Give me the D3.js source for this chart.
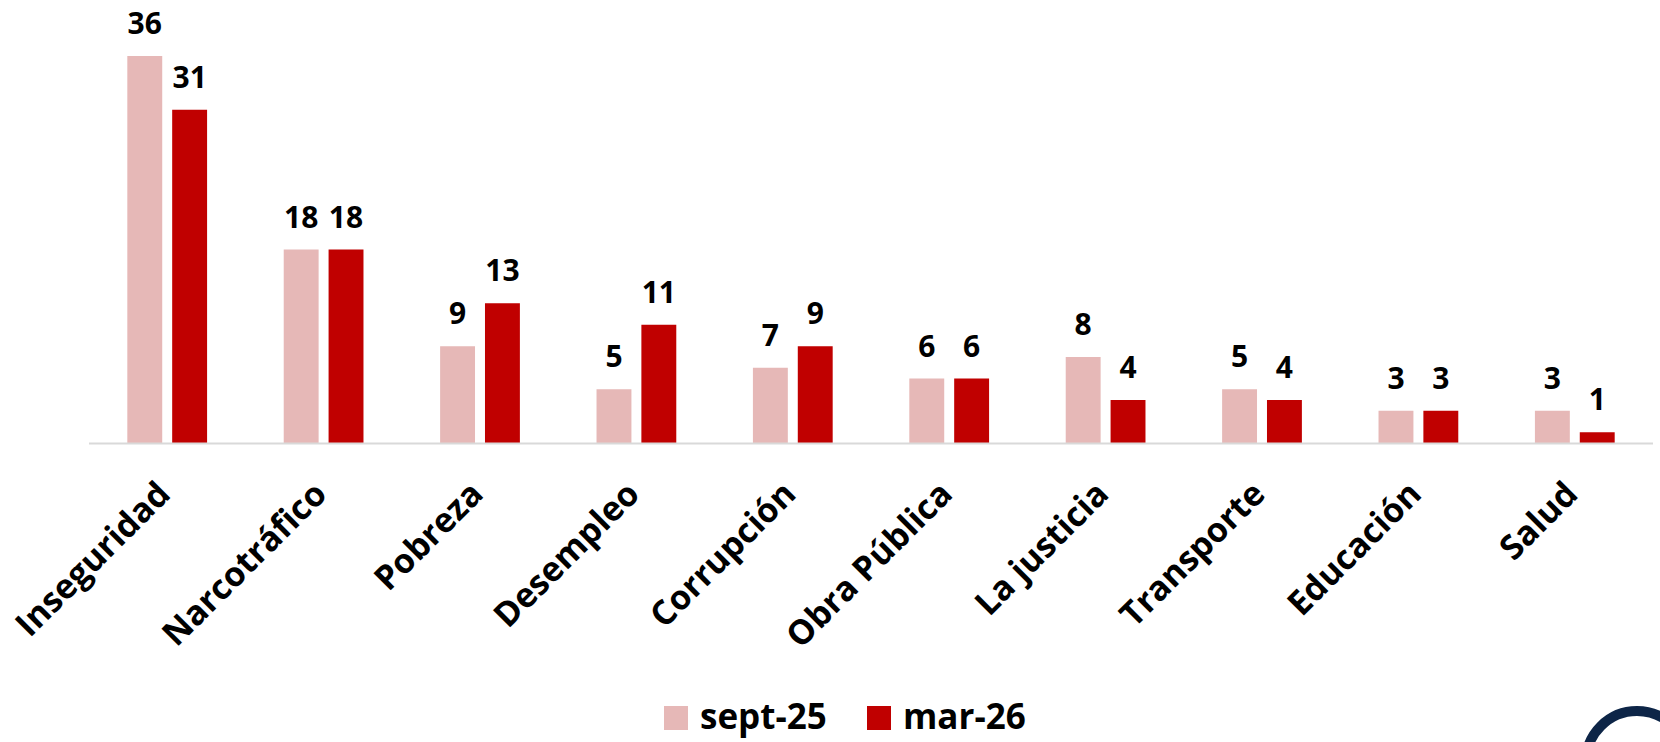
<!DOCTYPE html>
<html>
<head>
<meta charset="utf-8">
<script src="https://cdn.jsdelivr.net/npm/d3@7"></script>
<style>
  body { margin: 0; background: #fff; }
  text { font-family: "Open Sans", sans-serif; font-weight: 700; fill: #000; }
</style>
</head>
<body>
<div id="chart"></div>
<script>
// data
var categories = ["Inseguridad", "Narcotráfico", "Pobreza", "Desempleo", "Corrupción",
                  "Obra Pública", "La justicia", "Transporte", "Educación", "Salud"]
var seriesNames = ["sept-25", "mar-26"]
var sept25 = [36, 18, 9, 5, 7, 6, 8, 5, 3, 3]
var mar26 = [31, 18, 13, 11, 9, 6, 4, 4, 3, 1]
var colors = ["#e6b8b7", "#c00000"]

var W = 1660, H = 742
var svg = d3.select('#chart')
  .append('svg')
  .attr("width", W)
  .attr("height", H)

var rows = categories.map(function (c, i) {
  return { cat: c, vals: [sept25[i], mar26[i]] }
})

var x0 = d3.scaleBand()
  .domain(categories)
  .range([89, 1653])
  .paddingInner(0.49)
  .paddingOuter(0.245)

var x1 = d3.scaleBand()
  .domain(seriesNames)
  .range([0, x0.bandwidth()])
  .paddingInner(0.222)

var y = d3.scaleLinear()
  .domain([0, 40])
  .range([443, 13])

// bars
var groups = svg.selectAll("g.grp")
  .data(rows)
  .enter()
  .append("g")
  .attr("class", "grp")
  .attr("transform", function (d) { return "translate(" + x0(d.cat) + ",0)" })

groups.selectAll("rect")
  .data(function (d) { return d.vals.map(function (v, j) { return { s: seriesNames[j], v: v, j: j } }) })
  .enter()
  .append("rect")
  .attr("x", function (d) { return x1(d.s) })
  .attr("y", function (d) { return y(d.v) })
  .attr("width", x1.bandwidth())
  .attr("height", function (d) { return y(0) - y(d.v) })
  .attr("fill", function (d) { return colors[d.j] })

groups.selectAll("text.val")
  .data(function (d) { return d.vals.map(function (v, j) { return { s: seriesNames[j], v: v } }) })
  .enter()
  .append("text")
  .attr("class", "val")
  .attr("x", function (d) { return x1(d.s) + x1.bandwidth() / 2 })
  .attr("y", function (d) { return y(d.v) - 22 })
  .attr("text-anchor", "middle")
  .style("font-size", "30px")
  .text(function (d) { return d.v })

// baseline
svg.append("line")
  .attr("x1", 89).attr("x2", 1653)
  .attr("y1", y(0) + 0.5).attr("y2", y(0) + 0.5)
  .attr("stroke", "#d9d9d9")
  .attr("stroke-width", 2)

// category labels, rotated
svg.selectAll("text.cat")
  .data(categories)
  .enter()
  .append("text")
  .attr("class", "cat")
  .attr("transform", function (d) {
    return "translate(" + (x0(d) + x0.bandwidth() / 2 + 5) + ",496) rotate(-45)"
  })
  .attr("text-anchor", "end")
  .style("font-size", "34px")
  .text(function (d) { return d })

// legend
var legend = svg.append("g").attr("transform", "translate(664,706)")
var items = legend.selectAll("g")
  .data(seriesNames)
  .enter()
  .append("g")
  .attr("transform", function (d, i) { return "translate(" + (i * 203) + ",0)" })
items.append("rect")
  .attr("width", 24).attr("height", 24)
  .attr("fill", function (d, i) { return colors[i] })
items.append("text")
  .attr("x", 36).attr("y", 23)
  .style("font-size", "35px")
  .text(function (d) { return d })

// logo ring partially visible at bottom right
svg.append("circle")
  .attr("cx", 1637).attr("cy", 762)
  .attr("r", 51)
  .attr("fill", "none")
  .attr("stroke", "#0d2547")
  .attr("stroke-width", 10)
</script>
</body>
</html>
